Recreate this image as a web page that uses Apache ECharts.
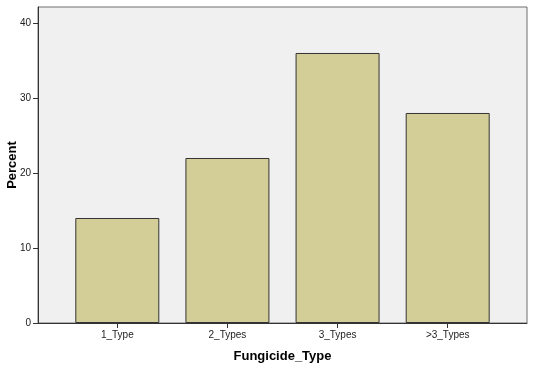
<!DOCTYPE html>
<html><head><meta charset="utf-8">
<script src="https://cdn.jsdelivr.net/npm/echarts@6/dist/echarts.min.js"></script>
<style>html,body{margin:0;padding:0;background:#fff}#c{width:533px;height:369px}</style>
</head><body><div id="c"></div>
<script>
const categories = ['1_Type', '2_Types', '3_Types', '>3_Types'];
const percentValues = [14, 22, 36, 28];
const yTicks = [0, 10, 20, 30, 40];

const chart = echarts.init(document.getElementById('c'), null, {renderer: 'canvas'});
const font = 'Liberation Sans, Arial, sans-serif';
chart.setOption({
  animation: false,
  backgroundColor: '#ffffff',
  grid: {left: 38, right: 6, top: 7, bottom: 46, containLabel: false, outerBoundsMode: 'none', show: true, backgroundColor: '#f0f0f0', borderColor: '#6e6e6e', borderWidth: 1},
  xAxis: {
    type: 'value', min: -0.72, max: 3.72,
    name: 'Fungicide_Type', nameLocation: 'middle', nameGap: 27, nameMoveOverlap: false,
    nameTextStyle: {fontFamily: font, fontWeight: 'bold', fontSize: 13, color: '#000'},
    axisLine: {show: true, onZero: false, lineStyle: {color: '#333', width: 1}},
    axisTick: {show: true, customValues: [0, 1, 2, 3], length: 5, inside: false, lineStyle: {color: '#333'}},
    axisLabel: {customValues: [0, 1, 2, 3], formatter: v => categories[Math.round(v)], fontFamily: font, fontSize: 10, color: '#222', margin: 7},
    splitLine: {show: false}
  },
  yAxis: {
    type: 'value', min: 0, max: 42.13,
    name: 'Percent', nameLocation: 'middle', nameGap: 19, nameRotate: 90, nameMoveOverlap: false,
    nameTextStyle: {fontFamily: font, fontWeight: 'bold', fontSize: 13, color: '#000'},
    axisLine: {show: true, onZero: false, lineStyle: {color: '#333', width: 1}},
    axisTick: {show: true, customValues: yTicks, length: 5, lineStyle: {color: '#333'}},
    axisLabel: {customValues: yTicks, fontFamily: font, fontSize: 10, color: '#222', margin: 7},
    splitLine: {show: false}
  },
  series: [{
    type: 'bar',
    data: percentValues.map((v, i) => [i, v]),
    barWidth: 84,
    itemStyle: {color: '#d3ce97', borderColor: '#333', borderWidth: 1}
  }]
});
</script></body></html>
